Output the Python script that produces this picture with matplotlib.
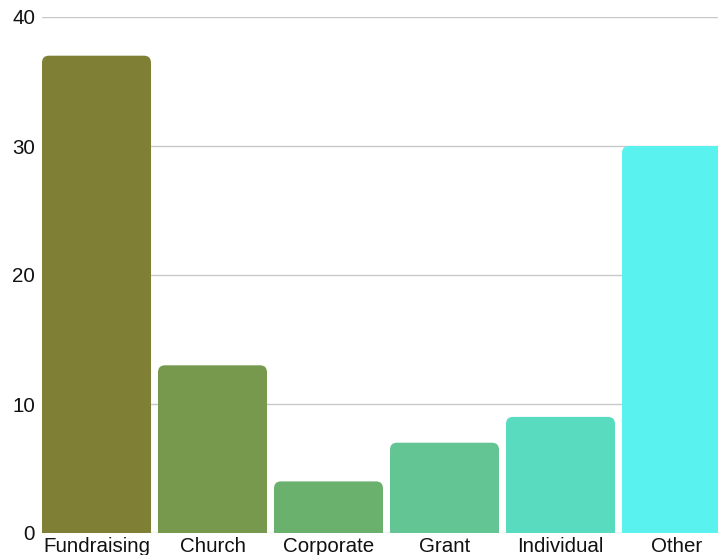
import matplotlib
matplotlib.use("Agg")
import matplotlib.pyplot as plt
from matplotlib.patches import FancyBboxPatch

categories = ["Fundraising", "Church", "Corporate", "Grant", "Individual", "Other"]
values = [37, 13, 4, 7, 9, 30]
colors = ["#7f7f35", "#77994e", "#6bb16e", "#63c593", "#59dbbf", "#5af2ee"]
y_ticks = [0, 10, 20, 30, 40]

plt.rcParams["font.family"] = ["Liberation Sans", "DejaVu Sans"]

fig = plt.figure(figsize=(7.18, 5.55), dpi=100)
ax = fig.add_axes([42 / 718, 22 / 555, 676 / 718, 516 / 555])

slot_px = 116.0
bar_width = 109.0 / slot_px
ax.set_xlim(0, 676 / slot_px)
ax.set_ylim(0, 40)

# rounded top corners, radius in pixels
radius_px = 7.0
rx = radius_px / slot_px
ry = radius_px * 40 / 516

for i, (val, col) in enumerate(zip(values, colors)):
    patch = FancyBboxPatch(
        (i, -ry), bar_width, val + ry,
        boxstyle=f"round,pad=0,rounding_size={rx}",
        mutation_aspect=ry / rx,
        facecolor=col, edgecolor="none", zorder=2,
    )
    ax.add_patch(patch)

for t in y_ticks:
    ax.axhline(t, color="#c8c8c8", linewidth=1.0, zorder=1)

ax.set_yticks(y_ticks)
ax.set_yticklabels([str(t) for t in y_ticks])
ax.set_xticks([i + bar_width / 2 for i in range(len(categories))])
ax.set_xticklabels(categories)
ax.tick_params(axis="both", length=0, labelsize=14.8, colors="#111111")
ax.tick_params(axis="y", pad=5)
ax.tick_params(axis="x", pad=3)
for s in ax.spines.values():
    s.set_visible(False)

fig.savefig("out.png", dpi=100)
